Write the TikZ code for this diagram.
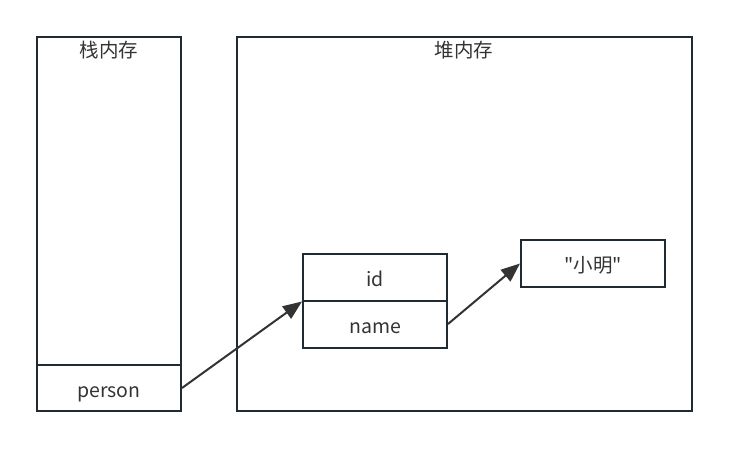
\documentclass[tikz,border=0pt]{standalone}
\usepackage{fontspec}
\setmainfont{Noto Sans CJK SC}[Ligatures=TeXOff]
\usetikzlibrary{arrows.meta,positioning}
\definecolor{edge}{HTML}{222A31}
\definecolor{ink}{HTML}{333333}

\begin{document}
\begin{tikzpicture}[x=1pt, y=-1pt, font=\fontsize{19.5}{22}\selectfont, text=ink,
	box/.style={draw=edge,line width=2pt,rectangle,inner sep=0pt},
	cell/.style={box,minimum width=144pt,minimum height=47pt,text height=22pt,text depth=4pt},
	ptr/.style={draw=ink,line width=2pt,-{Triangle[length=19pt,width=15pt]}}]
\useasboundingbox (0,0) rectangle (730,450);
\node[box,minimum width=144pt,minimum height=374pt] (stack) at (109, 224) {};
\node[box,minimum width=455pt,minimum height=374pt] (heap) at (464.5, 224) {};
\node[anchor=base] (stacktitle) at (109, 57) {栈内存};
\node[anchor=base] (heaptitle) at (464, 57) {堆内存};
\node[cell,minimum height=46pt] (person) at (109, 388) {person};
\node[cell] (id) at (375, 277) {id};
\node[cell] (name) at (375, 324) {name};
\node[cell] (str) at (593, 263.5) {"小明"};
\draw[ptr] (person.east) to (id.south west);
\draw[ptr] (name.east) to (str.west);
\end{tikzpicture}
\end{document}
